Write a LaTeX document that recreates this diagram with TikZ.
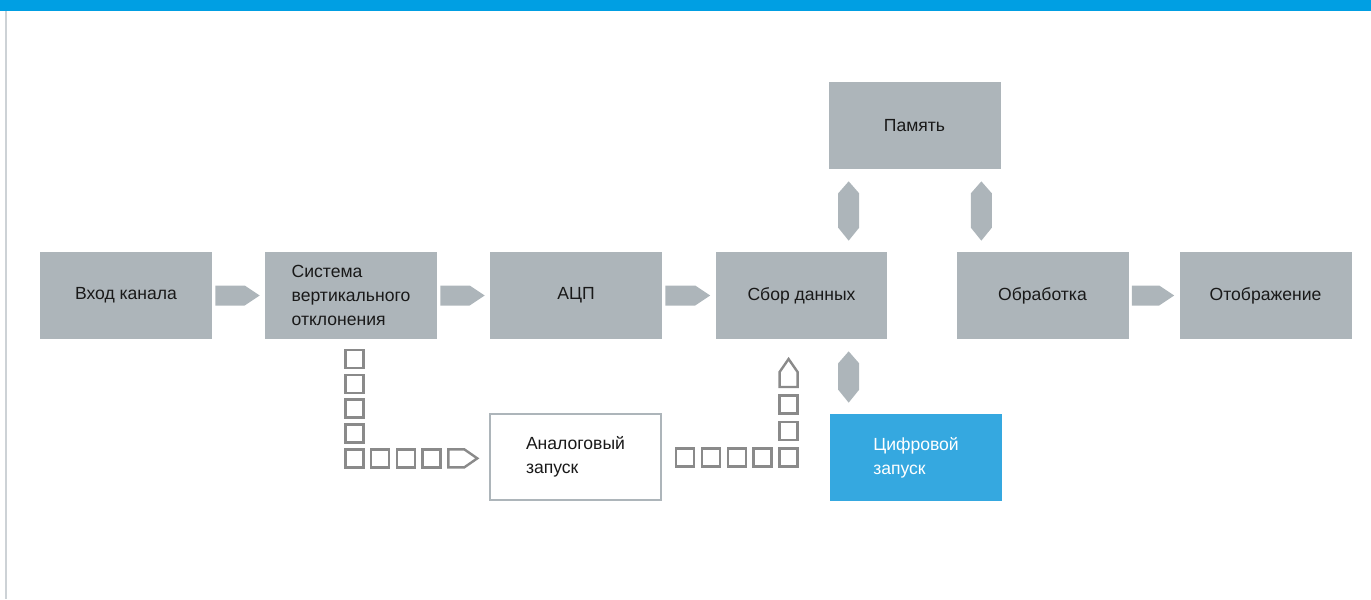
\documentclass[tikz,border=0pt]{standalone}
\usepackage{fontspec}
\setmainfont{Liberation Sans}
\usetikzlibrary{calc}

\definecolor{boxgray}{HTML}{ADB5BA}
\definecolor{barblue}{HTML}{009FE3}
\definecolor{trigblue}{HTML}{35A8E0}
\definecolor{chaingray}{HTML}{8A8A8A}
\definecolor{rulegray}{HTML}{CDD2D6}

\newcommand{\blockfont}{\fontsize{10}{13.7}\selectfont}

% Block arrow between two blocks in a row
\newcommand{\harrow}[2]{%
    \fill[boxgray] ($(#1.east)+(3,-10)$) -- ($(#2.west)+(-20,-10)$) -- ($(#2.west)+(-5,0)$)
        -- ($(#2.west)+(-20,10)$) -- ($(#1.east)+(3,10)$) -- cycle;}

% Two-way block arrow, from top point to bottom point
\newcommand{\varrow}[2]{%
    \fill[boxgray] ($(#1)+(0,12)$) -- ($(#1)+(10.5,24)$) -- ($(#2)+(10.5,-24)$) -- ($(#2)+(0,-11)$)
        -- ($(#2)+(-10.5,-24)$) -- ($(#1)+(-10.5,24)$) -- cycle;}

% Pieces of the trigger paths
\newcommand{\sq}[1]{\draw[chainline] ($(#1)+(-9,-9)$) rectangle ++(18,18);}
\newcommand{\rpent}[1]{\draw[chainline] ($(#1)+(-9,-9)$) -- ++(16,0) -- ++(13,9) -- ++(-13,9) -- ++(-16,0) -- cycle;}
\newcommand{\upent}[1]{\draw[chainline] ($(#1)+(-9,9)$) -- ++(0,-15) -- ++(9,-13) -- ++(9,13) -- ++(0,15) -- cycle;}

\tikzset{
    block/.style={fill=boxgray, minimum width=3.44cm, minimum height=1.74cm, inner sep=0pt,
        align=left, font=\blockfont, text=black!90},
    trigbox/.style={draw=boxgray, line width=0.04cm, fill=white, minimum width=3.42cm,
        minimum height=1.72cm, inner sep=0pt, align=left, font=\blockfont, text=black!90},
    chainline/.style={draw=chaingray, line width=0.048cm, line join=miter},
}

\begin{document}
\begin{tikzpicture}[x=0.02cm, y=-0.02cm]

    \useasboundingbox (0,0) rectangle (1371,599);

    % Title bar and left rule
    \fill[barblue] (0,0) rectangle (1371,11);
    \draw[rulegray, line width=0.04cm] (6,11) -- (6,599);

    % Signal chain
    \node[block] (inp)  at (126,295.5)    {Вход канала};
    \node[block] (vert) at (351,295.5)    {Система\\вертикального\\отклонения};
    \node[block] (adc)  at (576,295.5)    {АЦП};
    \node[block] (acq)  at (801.5,295.5)  {Сбор данных};
    \node[block] (proc) at (1042.5,295.5) {Обработка};
    \node[block] (disp) at (1265.5,295.5) {Отображение};
    \node[block] (mem)  at (914.5,125.5)  {Память};

    % Triggers
    \node[trigbox] (atrig) at (575.5,456.5) {Аналоговый\\запуск};
    \node[block, fill=trigblue, text=white] (dtrig) at (916,457.5) {Цифровой\\запуск};

    % Arrows along the chain
    \harrow{inp}{vert}
    \harrow{vert}{adc}
    \harrow{adc}{acq}
    \harrow{proc}{disp}

    % Memory and digital trigger links
    \path (mem.south west) ++(20.5,0) coordinate (m1t) (m1t |- acq.north) coordinate (m1b);
    \path (mem.south east) ++(-19.5,0) coordinate (m2t) (m2t |- proc.north) coordinate (m2b);
    \path (dtrig.north west) ++(19,0) coordinate (d1b) (d1b |- acq.south) coordinate (d1t);
    \varrow{m1t}{m1b}
    \varrow{m2t}{m2b}
    \varrow{d1t}{d1b}

    % Analog trigger path: vertical system -> analog trigger
    \coordinate (lc) at ($(vert.south)+(3.5,19.5)$);
    \foreach \i in {0,...,4} {\sq{$(lc)+(0,24.9*\i)$}}
    \coordinate (lk) at ($(lc)+(0,99.5)$);
    \foreach \i in {1,2,3} {\sq{$(lk)+(25.7*\i,0)$}}
    \rpent{$(lk)+(102.8,0)$}

    % Analog trigger -> acquisition
    \coordinate (rc) at ($(atrig.east)+(23,1)$);
    \foreach \i in {0,...,4} {\sq{$(rc)+(25.9*\i,0)$}}
    \coordinate (rk) at ($(rc)+(103.6,0)$);
    \foreach \i in {1,2} {\sq{$(rk)+(0,-26.5*\i)$}}
    \upent{$(rk)+(0,-79.5)$}

\end{tikzpicture}
\end{document}
